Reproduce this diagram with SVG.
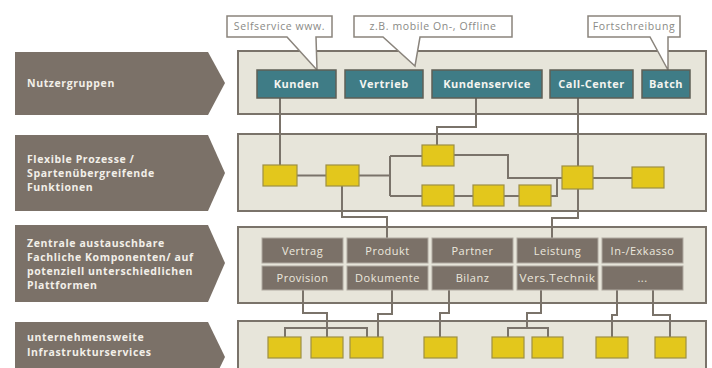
<svg xmlns="http://www.w3.org/2000/svg" width="712" height="368" viewBox="0 0 712 368">
<style>
.arrow{fill:#7b7168}
.lbl{font-family:"Open Sans","DejaVu Sans",sans-serif;font-weight:bold;font-size:10.5px;letter-spacing:0.6px;fill:#f2efe8}
.panel{fill:#e7e5da;stroke:#7a736a;stroke-width:2}
.teal{fill:#3f7c86;stroke:#5f5f56;stroke-width:1.5}
.tt{font-family:"Open Sans","DejaVu Sans",sans-serif;font-weight:bold;font-size:11px;letter-spacing:0.5px;fill:#f4f4f0;text-anchor:middle}
.call{fill:#fff;stroke:#8a847c;stroke-width:1.5}
.ct{font-family:"Open Sans","DejaVu Sans",sans-serif;font-size:10.5px;letter-spacing:0.6px;fill:#8a8a86;text-anchor:middle}
.yel{fill:#e3c71c;stroke:#9d8f45;stroke-width:1.2}
.comp{fill:#7b7168;stroke:#b0aaa0;stroke-width:1}
.cpt{font-family:"Open Sans","DejaVu Sans",sans-serif;font-size:11px;letter-spacing:0.5px;fill:#ece8de;text-anchor:middle}
.ln{fill:none;stroke:#7a736a;stroke-width:2}
</style>

<!-- Row labels (arrows) -->
<g id="row-nutzergruppen">
<path class="arrow" d="M15 52 H208 L225 83 L208 115 H15 Z"/>
<text class="lbl" x="27" y="87">Nutzergruppen</text>
</g>
<g id="row-prozesse">
<path class="arrow" d="M15 135 H208 L225 173 L208 211 H15 Z"/>
<text class="lbl" x="27" y="163">Flexible Prozesse /</text>
<text class="lbl" x="27" y="177">Spartenübergreifende</text>
<text class="lbl" x="27" y="191">Funktionen</text>
</g>
<g id="row-komponenten">
<path class="arrow" d="M15 225 H208 L225 263 L208 302 H15 Z"/>
<text class="lbl" x="27" y="247">Zentrale austauschbare</text>
<text class="lbl" x="27" y="261">Fachliche Komponenten/ auf</text>
<text class="lbl" x="27" y="275">potenziell unterschiedlichen</text>
<text class="lbl" x="27" y="289">Plattformen</text>
</g>
<g id="row-infrastruktur">
<path class="arrow" d="M15 322 H208 L225 357 L208 392 H15 Z"/>
<text class="lbl" x="27" y="341">unternehmensweite</text>
<text class="lbl" x="27" y="356">Infrastrukturservices</text>
</g>

<!-- Panels -->
<g id="panel-1"><rect class="panel" x="238" y="51" width="468" height="63"/></g>
<g id="panel-2"><rect class="panel" x="238" y="134" width="468" height="77"/></g>
<g id="panel-3"><rect class="panel" x="238" y="227" width="468" height="76"/></g>
<g id="panel-4"><rect class="panel" x="238" y="321" width="468" height="60"/></g>

<!-- Connectors -->
<g id="connectors">
<path class="ln" d="M280 98 V165"/>
<path class="ln" d="M476 98 V127 H437 V145"/>
<path class="ln" d="M578 98 V218 H552 V238"/>
<path class="ln" d="M297 175.5 H326"/>
<path class="ln" d="M359 175.5 H390"/>
<path class="ln" d="M390 156 V196"/>
<path class="ln" d="M390 156 H422"/>
<path class="ln" d="M390 196 H422"/>
<path class="ln" d="M454 155 H508 V178 H562"/>
<path class="ln" d="M454 196 H473"/>
<path class="ln" d="M504 196 H519"/>
<path class="ln" d="M551 196 H557 V178"/>
<path class="ln" d="M593 178 H632"/>
<path class="ln" d="M342 186 V217 H387 V238"/>
<path class="ln" d="M303 290 V313 H327 V337"/>
<path class="ln" d="M285 337 V328 H367 V337"/>
<path class="ln" d="M392 290 V314 H378 V337"/>
<path class="ln" d="M449 290 V313 H440 V337"/>
<path class="ln" d="M541 290 V313 H527 V328"/>
<path class="ln" d="M508 337 V328 H548 V337"/>
<path class="ln" d="M617 290 V315 H612 V337"/>
<path class="ln" d="M653 290 V315 H670 V337"/>
</g>

<!-- Callouts -->
<g id="callout-selfservice">
<path class="call" d="M227 16 H332 V37 H316 L317 70 L287 37 H227 Z"/>
<text class="ct" x="279.5" y="30">Selfservice www.</text>
</g>
<g id="callout-mobile">
<path class="call" d="M354 16 H512 V37 H420 L415 66 L383 37 H354 Z"/>
<text class="ct" x="433" y="30">z.B. mobile On-, Offline</text>
</g>
<g id="callout-fortschreibung">
<path class="call" d="M588 16 H680 V37 H668 L668 70 L650 37 H588 Z"/>
<text class="ct" x="634" y="30">Fortschreibung</text>
</g>

<!-- Teal user groups -->
<g id="kunden"><rect class="teal" x="257" y="70" width="79" height="28"/><text class="tt" x="296.5" y="88">Kunden</text></g>
<g id="vertrieb"><rect class="teal" x="345" y="70" width="78" height="28"/><text class="tt" x="384" y="88">Vertrieb</text></g>
<g id="kundenservice"><rect class="teal" x="432" y="70" width="110" height="28"/><text class="tt" x="487" y="88">Kundenservice</text></g>
<g id="call-center"><rect class="teal" x="550" y="70" width="83" height="28"/><text class="tt" x="591.5" y="88">Call-Center</text></g>
<g id="batch"><rect class="teal" x="642" y="70" width="48" height="28"/><text class="tt" x="666" y="88">Batch</text></g>

<!-- Process boxes -->
<g id="p1"><rect class="yel" x="263" y="165" width="34" height="21"/></g>
<g id="p2"><rect class="yel" x="326" y="165" width="33" height="21"/></g>
<g id="p3"><rect class="yel" x="422" y="145" width="32" height="21"/></g>
<g id="p4"><rect class="yel" x="422" y="185" width="32" height="21"/></g>
<g id="p5"><rect class="yel" x="473" y="185" width="31" height="21"/></g>
<g id="p6"><rect class="yel" x="519" y="185" width="32" height="21"/></g>
<g id="p7"><rect class="yel" x="562" y="166" width="31" height="23"/></g>
<g id="p8"><rect class="yel" x="632" y="167" width="32" height="21"/></g>

<!-- Components -->
<g id="c-vertrag"><rect class="comp" x="262" y="238" width="81" height="25"/><text class="cpt" x="302.5" y="255">Vertrag</text></g>
<g id="c-produkt"><rect class="comp" x="347" y="238" width="81" height="25"/><text class="cpt" x="387.5" y="255">Produkt</text></g>
<g id="c-partner"><rect class="comp" x="432" y="238" width="81" height="25"/><text class="cpt" x="472.5" y="255">Partner</text></g>
<g id="c-leistung"><rect class="comp" x="517" y="238" width="81" height="25"/><text class="cpt" x="557.5" y="255">Leistung</text></g>
<g id="c-inexkasso"><rect class="comp" x="602" y="238" width="81" height="25"/><text class="cpt" x="642.5" y="255">In-/Exkasso</text></g>
<g id="c-provision"><rect class="comp" x="262" y="266" width="81" height="24"/><text class="cpt" x="302.5" y="282">Provision</text></g>
<g id="c-dokumente"><rect class="comp" x="347" y="266" width="81" height="24"/><text class="cpt" x="387.5" y="282">Dokumente</text></g>
<g id="c-bilanz"><rect class="comp" x="432" y="266" width="81" height="24"/><text class="cpt" x="472.5" y="282">Bilanz</text></g>
<g id="c-verstechnik"><rect class="comp" x="517" y="266" width="81" height="24"/><text class="cpt" x="557.5" y="282" textLength="76" lengthAdjust="spacingAndGlyphs">Vers.Technik</text></g>
<g id="c-more"><rect class="comp" x="602" y="266" width="81" height="24"/><text class="cpt" x="642.5" y="282">...</text></g>

<!-- Infrastructure services -->
<g id="i1"><rect class="yel" x="268" y="337" width="33" height="21"/></g>
<g id="i2"><rect class="yel" x="311" y="337" width="32" height="21"/></g>
<g id="i3"><rect class="yel" x="350" y="337" width="33" height="21"/></g>
<g id="i4"><rect class="yel" x="424" y="337" width="33" height="21"/></g>
<g id="i5"><rect class="yel" x="492" y="337" width="32" height="21"/></g>
<g id="i6"><rect class="yel" x="532" y="337" width="31" height="21"/></g>
<g id="i7"><rect class="yel" x="596" y="337" width="32" height="21"/></g>
<g id="i8"><rect class="yel" x="655" y="337" width="31" height="21"/></g>
</svg>
